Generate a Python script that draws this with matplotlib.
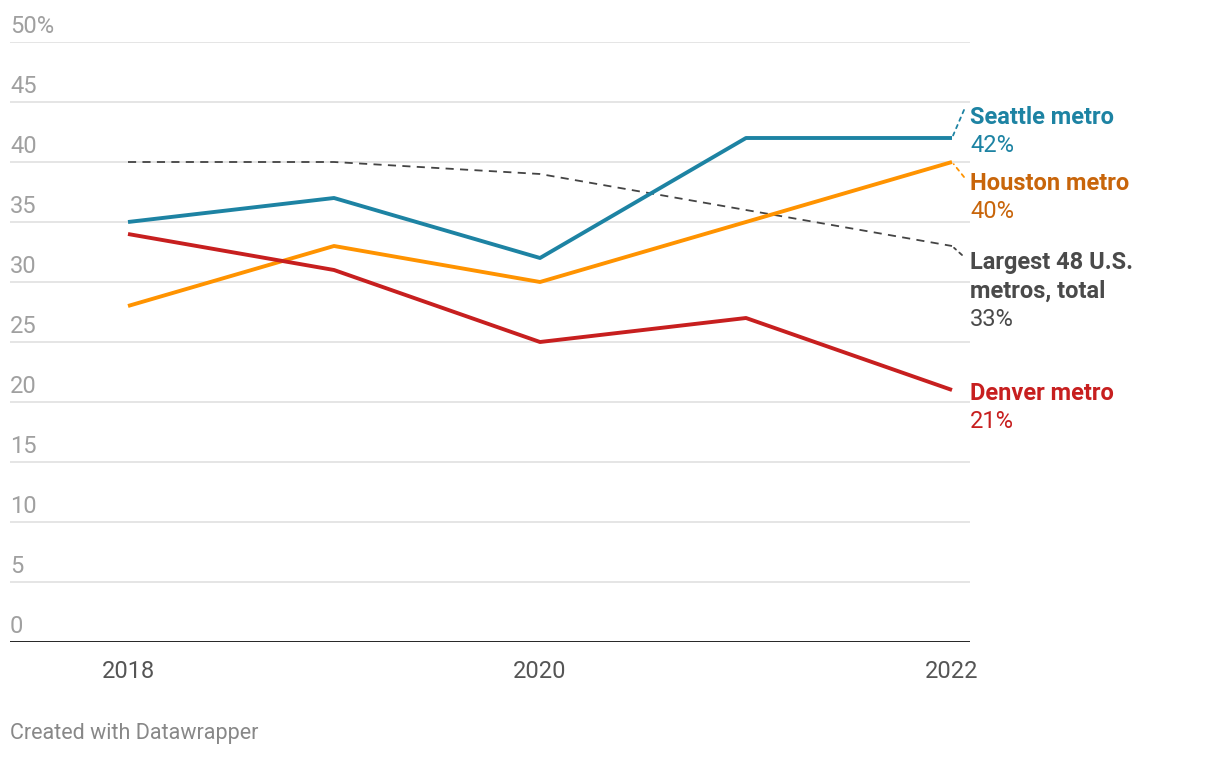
import numpy as np
import matplotlib.pyplot as plt

plt.rcParams['font.family'] = ['Roboto', 'DejaVu Sans']

years = [2018, 2019, 2020, 2021, 2022]
seattle = [35, 37, 32, 42, 42]
houston = [28, 33, 30, 35, 40]
denver = [34, 31, 25, 27, 21]
total = [40, 40, 39, 36, 33]

y_ticks = [0, 5, 10, 15, 20, 25, 30, 35, 40, 45, 50]
y_tick_labels = ['0', '5', '10', '15', '20', '25', '30', '35', '40', '45', '50%']
x_ticks = [2018, 2020, 2022]

W, H = 1220, 758
fig = plt.figure(figsize=(W / 100, H / 100), dpi=100)
# axes box in pixel terms: left 10, right 970, bottom 641 (y=0), top 41 (y=50)
ax = fig.add_axes([10 / W, (H - 642) / H, 960 / W, 600 / H])
ax.set_xlim(2018 - 118 / 206, 2022 + 18 / 206)
ax.set_ylim(0, 50)
for s in ax.spines.values():
    s.set_visible(False)
ax.set_yticks([])
ax.set_xticks(x_ticks, [str(x) for x in x_ticks])
ax.tick_params(axis='x', length=0, pad=13, labelsize=17, labelcolor='#555555')

# gridlines
for t in y_ticks[1:]:
    ax.axhline(t, color='#e3e3e3', lw=1.3, zorder=0)
ax.axhline(0, color='#111111', lw=2.0, zorder=3)

for t, lab in zip(y_ticks, y_tick_labels):
    ax.annotate(lab, xy=(0, t), xycoords=('axes fraction', 'data'),
                xytext=(0, 9), textcoords='offset pixels',
                ha='left', va='baseline', fontsize=17, color='#a0a0a0')

# series
ax.plot(years, total, color='#444444', lw=1.3, dashes=(4.5, 3.5), zorder=2)
ax.plot(years, houston, color='#ff9300', lw=2.8, zorder=4, solid_capstyle='butt')
ax.plot(years, denver, color='#c71f1f', lw=2.8, zorder=4, solid_capstyle='butt')
ax.plot(years, seattle, color='#1d83a3', lw=2.8, zorder=5, solid_capstyle='butt')

# end labels: (name lines, value, line colour, text colour, first-line offset px, leader end px)
labels = [
    (['Seattle metro'], seattle[-1], '#1d83a3', '#1d83a3', 21, (12, 28)),
    (['Houston metro'], houston[-1], '#ff9300', '#c8650a', -21, (12, -15)),
    (['Largest 48 U.S.', 'metros, total'], total[-1], '#444444', '#4a4a4a', -17, (10, -9)),
    (['Denver metro'], denver[-1], '#c71f1f', '#c71f1f', -4, None),
]
for names, val, lc, tc, off, leader in labels:
    x_end = years[-1]
    if leader is not None:
        ax.annotate('', xy=(x_end, val), xycoords='data',
                    xytext=leader, textcoords='offset pixels',
                    arrowprops=dict(arrowstyle='-', color=lc, lw=1.3,
                                    linestyle=(0, (2, 2.5)),
                                    shrinkA=0, shrinkB=2))
    lines = names + ['%d%%' % val]
    for i, txt in enumerate(lines):
        ax.annotate(txt, xy=(x_end, val), xycoords='data',
                    xytext=(18, off - 28 * i), textcoords='offset pixels',
                    ha='left', va='center', fontsize=17, color=tc,
                    fontweight='bold' if i < len(names) else 'normal',
                    annotation_clip=False)

fig.text(10 / W, 1 - 734 / H, 'Created with Datawrapper', ha='left', va='center',
         fontsize=15.5, color='#888888')

fig.savefig('out.png', dpi=100)
